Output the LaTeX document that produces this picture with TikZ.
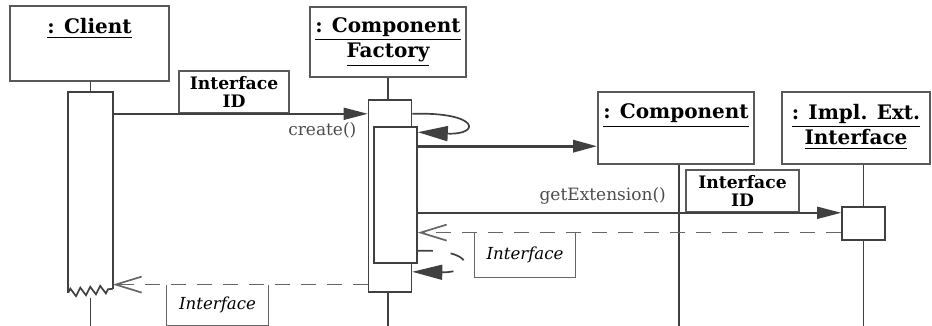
\documentclass[tikz,border=0pt]{standalone}
\usepackage{fontspec}
\setmainfont{DejaVu Serif}
\usetikzlibrary{arrows.meta,calc,decorations.pathmorphing}

\begin{document}
\begin{tikzpicture}[
  x=0.5pt, y=-0.5pt,
  msgline/.style={draw=black!75, line width=0.85pt},
  objbox/.style={rectangle, draw=black!65, line width=0.8pt, inner sep=0pt},
  objtitle/.style={anchor=base, align=center, inner sep=0pt,
                   font=\bfseries\fontsize{10}{12.8}\selectfont},
  act/.style={rectangle, draw=black!75, fill=white, line width=0.8pt,
              minimum width=21.5pt, inner sep=0pt},
  idtag/.style={rectangle, draw=black!65, line width=0.8pt, inner sep=0pt,
                align=center, font=\bfseries\fontsize{8.6}{9}\selectfont},
  rettag/.style={rectangle, inner sep=0pt, font=\itshape\fontsize{8.3}{10}\selectfont},
  msglabel/.style={anchor=base east, inner sep=0pt, text=black!70,
                   font=\fontsize{8.5}{10}\selectfont},
  call/.style={msgline, -{Triangle[length=12pt, width=6pt]}},
  ret/.style={msgline, draw=black!60, dash pattern=on 7.5pt off 5.5pt,
              -{Straight Barb[length=13pt, width=8pt]}}
]
  \useasboundingbox (0,0) rectangle (932,326);
  \coordinate (floor) at (0,326);

  % Objects
  \node[objbox, minimum width=79.5pt, minimum height=37.5pt] (client) at (89.5,43.5) {};
  \node[objbox, minimum width=78pt, minimum height=35pt] (factory) at (388,42) {};
  \node[objbox, minimum width=78pt, minimum height=36pt] (component) at (676,128) {};
  \node[objbox, minimum width=74pt, minimum height=36pt] (impl) at (856,128) {};
  \node[objtitle] (clientname) at (89.5,34) {\underline{: Client}};
  \node[objtitle] (factoryname) at (388,58) {\underline{: Component}\\\underline{Factory}};
  \node[objtitle] (componentname) at (676,119) {\underline{: Component}};
  \node[objtitle] (implname) at (856,145) {\underline{: Impl. Ext.}\\\underline{Interface}};

  % Activations
  \node[act, draw=none, fill=none, minimum height=99.5pt] (cact) at (90.5,192.5) {};
  \draw[msgline] (cact.south west) -- (cact.north west) -- (cact.north east)
    -- ($(cact.south east)+(0,-4)$);
  \draw[msgline, decorate, decoration={zigzag, segment length=5pt, amplitude=2pt}]
    (cact.south west) -- ($(cact.south east)+(0,-4)$);
  \node[act, minimum height=96pt] (fout) at (390,196) {};
  \node[act, minimum height=68pt] (finn) at (395.5,195) {};
  \node[act, minimum height=16.5pt] (iact) at (863.5,223.5) {};

  % Lifelines
  \coordinate (clow) at ($(cact.south)+(0,5)$);
  \coordinate (compline) at ($(component.south)+(3,0)$);
  \draw[msgline] (cact.north |- client.south) -- (cact.north);
  \draw[msgline] (clow) -- (clow |- floor);
  \draw[msgline] (factory.south) -- (factory.south |- fout.north);
  \draw[msgline] (factory.south |- fout.south) -- (factory.south |- floor);
  \draw[msgline] (compline) -- (compline |- floor);
  \draw[msgline] (iact.north |- impl.south) -- (iact.north);
  \draw[msgline] (iact.south) -- (iact.south |- floor);

  % create()
  \node[idtag, minimum width=55pt, minimum height=21pt] (id1) at (234,92) {Interface\\ID};
  \draw[call] (cact.east |- id1.south) -- (fout.west |- id1.south);
  \node[msglabel] (createlbl) at ($(fout.west |- id1.south)+(-11,22)$) {create()};
  \draw[call, -{Triangle[length=15pt, width=7.5pt]}] (fout.east |- id1.south)
    .. controls +(68,-2) and +(63,3) .. ($(finn.north east)+(0,6)$);
  \draw[call, line width=1.5pt] ($(finn.north east)+(0,20)$) coordinate (mk)
    -- (mk -| component.west);

  % getExtension()
  \node[idtag, minimum width=56.5pt, minimum height=21pt] (id2) at (742.5,191) {Interface\\ID};
  \draw[call] (finn.east |- id2.south) -- (iact.west |- id2.south);
  \node[msglabel] (getextlbl) at ($(id2.south west)+(-19,-12)$) {getExtension()};

  % Returns
  \node[rettag, minimum width=50pt, minimum height=22pt] (ret1) at (525,255) {Interface};
  \draw[msgline, draw=black!60] (ret1.north west) |- (ret1.south east) -- (ret1.north east);
  \draw[ret] (iact.west |- ret1.north) -- (finn.east |- ret1.north);
  \draw[msgline, dash pattern=on 7.5pt off 9pt, -{Triangle[length=15pt, width=7.5pt]}]
    ($(finn.south east)+(0,-13)$) .. controls +(58,-2) and +(63,1)
    .. ($(fout.south east)+(0,-21)$);
  \node[rettag, minimum width=50.5pt, minimum height=20pt] (ret2) at (217.5,305) {Interface};
  \draw[msgline, draw=black!60] (ret2.north west) |- (ret2.south east) -- (ret2.north east);
  \draw[ret] (fout.west |- ret2.north) -- (cact.east |- ret2.north);
\end{tikzpicture}
\end{document}
